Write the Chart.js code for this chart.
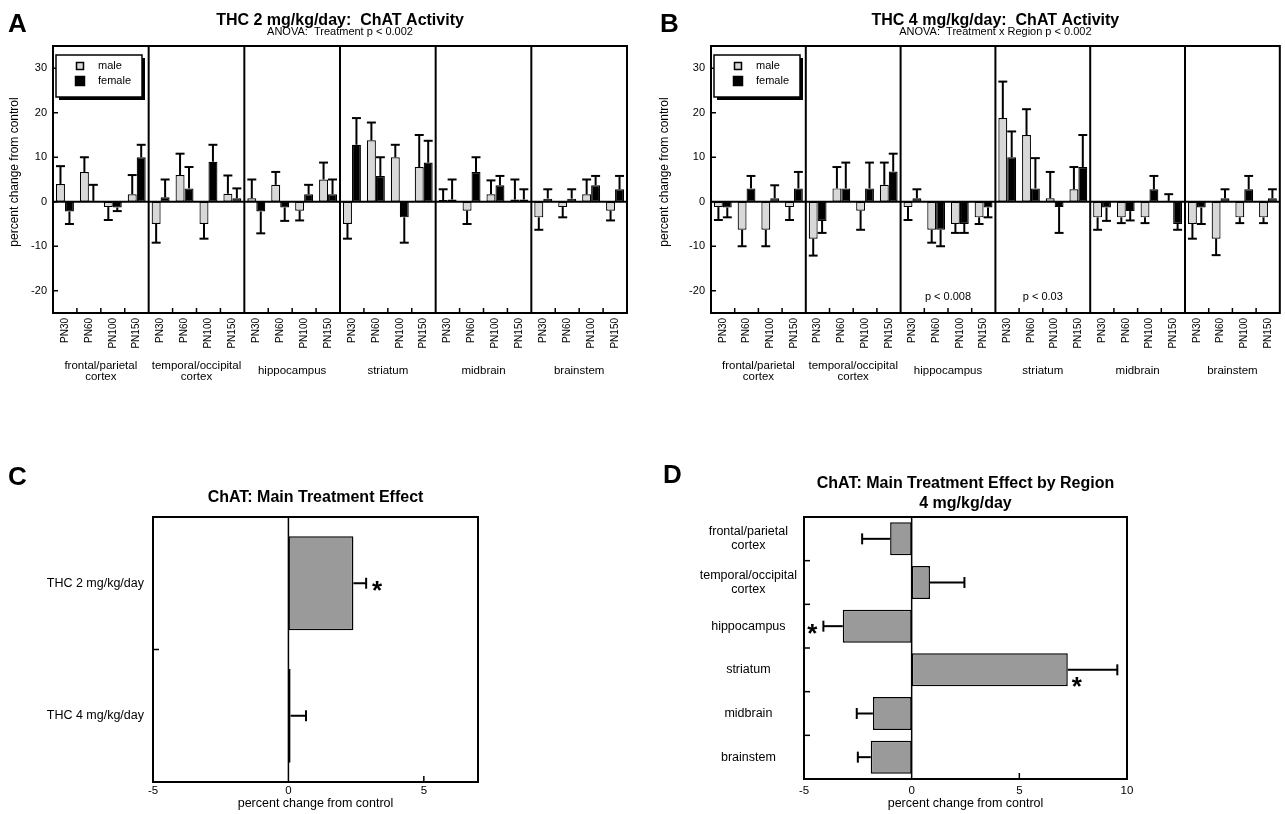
<!DOCTYPE html>
<html>
<head>
<meta charset="utf-8">
<title>ChAT activity</title>
<script src="https://cdn.jsdelivr.net/npm/chart.js@4.4.1/dist/chart.umd.min.js"></script>
<style>
  body { margin: 0; background: #fff; }
  #page { position: relative; width: 1285px; height: 814px; overflow: hidden; }
  #page canvas { position: absolute; }
</style>
</head>
<body>
<div id="page">
  <canvas id="chartA" width="640" height="400" style="left:0;top:0"></canvas>
  <canvas id="chartB" width="645" height="400" style="left:640px;top:0"></canvas>
  <canvas id="chartC" width="640" height="374" style="left:0;top:440px"></canvas>
  <canvas id="chartD" width="645" height="374" style="left:640px;top:440px"></canvas>
</div>
<script>
// ---- data ----
const ages = ['PN30', 'PN60', 'PN100', 'PN150'];
const regions = [['frontal/parietal', 'cortex'], ['temporal/occipital', 'cortex'], ['hippocampus'], ['striatum'], ['midbrain'], ['brainstem']];
const groupLabels = regions.flatMap(() => ages);
const yTicksAB = [-20, -10, 0, 10, 20, 30];

// A: THC 2 mg/kg/day, percent change from control (errors = SEM, drawn away from zero)
const maleA      = [4, 6.7, -1.2, 1.7,   -5, 6, -5, 1.8,      0.8, 3.8, -2, 5,     -5, 13.8, 10, 7.8,   0.4, -2, 1.7, 0.5,   -3.5, -1.2, 1.7, -2];
const maleAErr   = [4, 3.3, 2.9, 4.3,    4.2, 4.8, 3.3, 4.1,  4.2, 2.9, 2.2, 3.8,  3.3, 4, 2.8, 7.2,    2.4, 3, 3.1, 4.5,    2.8, 2.3, 3.3, 2.2];
const femaleA    = [-2.2, 0.2, -1.3, 10, 1, 3, 9, 0.8,        -2.2, -1.3, 1.7, 1.7, 12.8, 5.8, -3.5, 8.8, 0.5, 6.7, 3.7, 0.5, 0.7, 0.7, 3.7, 2.8];
const femaleAErr = [2.8, 3.6, 0.8, 2.8,  4, 4.8, 3.8, 2.2,    4.9, 3, 2.1, 3.3,    6, 4.2, 5.7, 4.9,    4.5, 3.3, 2.1, 2.3,  2.1, 2.1, 2.1, 3];

// B: THC 4 mg/kg/day
const maleB      = [-1.2, -6.3, -6.3, -1.2, -8.3, 3, -2, 3.8,   -1.2, -6.3, -5, -3.5, 18.8, 15, 0.8, 2.8,  -3.5, -3.5, -3.5, 0.2, -5, -8.3, -3.5, -3.5];
const maleBErr   = [2.9, 3.7, 3.7, 2.9,     3.8, 4.8, 4.3, 5,   2.9, 2.9, 2, 1.5,     8.2, 5.8, 5.9, 5,    2.8, 1.3, 1.3, 1.5,    3.3, 3.7, 1.3, 1.3];
const femaleB    = [-1.3, 3, 0.8, 3,        -4.3, 3, 3, 6.8,    0.8, -6.3, -5, -1.3,  10, 3, -1.2, 7.8,    -1.3, -2.1, 2.8, -5,   -1.3, 0.8, 2.8, 0.8];
const femaleBErr = [2.2, 2.8, 2.9, 3.7,     2.7, 5.8, 5.8, 4,   2, 3.7, 2, 2.2,       5.8, 6.8, 5.8, 7.2,  3, 2.1, 3, 1.3,        3.7, 2, 3, 2];
const notesB = [{ region: 2, text: 'p < 0.008' }, { region: 3, text: 'p < 0.03' }];

// C: main treatment effect
const doses = ['THC 2 mg/kg/day', 'THC 4 mg/kg/day'];
const mainEffect = [2.4, 0.08];
const mainEffectErr = [0.47, 0.57];
const mainEffectStars = [true, false];
const xTicksC = [-5, 0, 5];

// D: main treatment effect by region, 4 mg/kg/day
const regionEffect = [-1.0, 0.85, -3.2, 7.25, -1.8, -1.9];
const regionEffectErr = [1.3, 1.6, 0.9, 2.3, 0.75, 0.6];
const regionEffectStars = [false, false, true, true, false, false];
const xTicksD = [-5, 0, 5, 10];

// ---- helpers ----
const FAMILY = "'Liberation Sans', Arial, Helvetica, sans-serif";
Chart.defaults.font.family = FAMILY;
Chart.defaults.color = '#000';
Chart.defaults.animation = false;
Chart.defaults.plugins.legend.display = false;
Chart.defaults.plugins.tooltip.enabled = false;

function line(ctx, x1, y1, x2, y2) {
  ctx.beginPath(); ctx.moveTo(x1, y1); ctx.lineTo(x2, y2); ctx.stroke();
}
function text(ctx, str, x, y, size, o = {}) {
  ctx.save();
  ctx.font = (o.bold ? 'bold ' : '') + size + 'px ' + FAMILY;
  ctx.textAlign = o.align || 'center';
  ctx.textBaseline = o.baseline || 'middle';
  ctx.fillStyle = '#000';
  ctx.translate(x, y);
  if (o.rotate) ctx.rotate(o.rotate);
  ctx.fillText(str, 0, 0);
  ctx.restore();
}

// error bars (one-sided, away from zero) + significance stars
function errorBars(capOf) {
  return {
    id: 'errorBars',
    afterDatasetsDraw(chart) {
      const { ctx, chartArea: a } = chart;
      const horiz = chart.options.indexAxis === 'y';
      const vs = horiz ? chart.scales.x : chart.scales.y;
      ctx.save();
      ctx.strokeStyle = '#000';
      ctx.lineWidth = 2;
      chart.data.datasets.forEach((ds, di) => {
        if (!ds.errors) return;
        chart.getDatasetMeta(di).data.forEach((bar, i) => {
          const v = ds.data[i];
          const dir = v < 0 ? -1 : 1;
          const p0 = vs.getPixelForValue(v);
          const p1 = vs.getPixelForValue(v + dir * ds.errors[i]);
          const half = capOf(bar) / 2;
          if (horiz) {
            const c = bar.y;
            line(ctx, p0, c, p1, c);
            line(ctx, p1, c - half, p1, c + half);
            if (ds.stars && ds.stars[i]) {
              let sx = p1 + dir * 11, sy = c + 1;
              if (sx + 6 > a.right || sx - 6 < a.left) { sx = p0 + dir * 9; sy = c + 10; }
              text(ctx, '*', sx, sy + 15, 26, { bold: true, baseline: 'alphabetic' });
            }
          } else {
            const c = bar.x;
            line(ctx, c, p0, c, p1);
            line(ctx, c - half, p1, c + half, p1);
          }
        });
      });
      ctx.restore();
    }
  };
}

// frame, region dividers, legend and labels for panels A and B
function sexPanel(o) {
  return {
    id: 'sexPanel',
    afterDraw(chart) {
      const { ctx, chartArea: a, scales: { x, y } } = chart;
      const n = ages.length;
      const step = x.getPixelForValue(1) - x.getPixelForValue(0);
      const edge = i => x.getPixelForValue(i) - step / 2;
      ctx.save();
      ctx.strokeStyle = '#000';
      ctx.lineWidth = 2;
      const y0 = y.getPixelForValue(0);
      line(ctx, a.left, y0, a.right, y0);
      for (let r = 1; r < regions.length; r++) line(ctx, edge(r * n), a.top, edge(r * n), a.bottom);
      ctx.lineWidth = 1.5;
      for (let i = 1; i < groupLabels.length; i++) if (i % n) line(ctx, edge(i), a.bottom, edge(i), a.bottom - 5);
      y.ticks.forEach(t => { const py = y.getPixelForValue(t.value); line(ctx, a.left, py, a.left + 5, py); });
      ctx.lineWidth = 2;
      ctx.strokeRect(a.left, a.top, a.width, a.height);

      // region names
      regions.forEach((lines, r) => {
        const cx = (edge(r * n) + edge((r + 1) * n)) / 2;
        lines.forEach((t, k) => text(ctx, t, cx, 371 + (k - (lines.length - 1) / 2) * 11, 11.5));
      });
      (o.notes || []).forEach(nt => {
        const cx = (edge(nt.region * n) + edge((nt.region + 1) * n)) / 2;
        text(ctx, nt.text, cx, a.bottom - 16, 11);
      });

      // legend
      const lx = a.left + 3, ly = a.top + 9, lw = 86, lh = 42;
      ctx.fillStyle = '#000';
      ctx.fillRect(lx + 3, ly + 3, lw, lh);
      ctx.fillStyle = '#fff';
      ctx.fillRect(lx, ly, lw, lh);
      ctx.lineWidth = 1.5;
      ctx.strokeRect(lx, ly, lw, lh);
      chart.data.datasets.forEach((ds, k) => {
        const s = k ? 9 : 7, cy = ly + 11 + k * 15;
        ctx.fillStyle = ds.backgroundColor;
        ctx.fillRect(lx + 24 - s / 2, cy - s / 2, s, s);
        ctx.strokeRect(lx + 24 - s / 2, cy - s / 2, s, s);
        text(ctx, ds.label, lx + 42, cy, 11, { align: 'left' });
      });

      // titles
      const cx = (a.left + a.right) / 2;
      text(ctx, o.title, cx, 25, 16, { bold: true, baseline: 'alphabetic' });
      text(ctx, o.subtitle, cx, 35, 11, { baseline: 'alphabetic' });
      text(ctx, o.letter, o.letterX, 32, 26, { bold: true, align: 'left', baseline: 'alphabetic' });
      text(ctx, 'percent change from control', o.yTitleX, 172, 12, { rotate: -Math.PI / 2 });
      ctx.restore();
    }
  };
}

function sexChart(id, male, maleErr, female, femaleErr, o) {
  return new Chart(document.getElementById(id), {
    type: 'bar',
    data: {
      labels: groupLabels,
      datasets: [
        { label: 'male', data: male, errors: maleErr, backgroundColor: '#d8d8d8', borderColor: '#000', borderWidth: 1.2, borderSkipped: false },
        { label: 'female', data: female, errors: femaleErr, backgroundColor: '#000', borderColor: '#000', borderWidth: 1.2, borderSkipped: false }
      ]
    },
    options: {
      responsive: false,
      categoryPercentage: 0.75,
      barPercentage: 1,
      layout: { padding: o.padding },
      scales: {
        x: {
          grid: { display: false, drawTicks: false },
          border: { display: false },
          ticks: { autoSkip: false, minRotation: 90, maxRotation: 90, padding: 5, font: { size: 10 } },
          afterFit: s => { s.height = 87; }
        },
        y: {
          min: -25, max: 35,
          grid: { display: false, drawTicks: false },
          border: { display: false },
          ticks: { padding: 6, font: { size: 11 } },
          afterBuildTicks: s => { s.ticks = yTicksAB.map(v => ({ value: v })); },
          afterFit: s => { s.width = 35; }
        }
      }
    },
    plugins: [errorBars(bar => bar.width), sexPanel(o)]
  });
}

// frame and labels for panels C and D
function effectPanel(o) {
  return {
    id: 'effectPanel',
    afterDraw(chart) {
      const { ctx, chartArea: a, scales: { x, y } } = chart;
      const step = y.getPixelForValue(1) - y.getPixelForValue(0);
      ctx.save();
      ctx.strokeStyle = '#000';
      ctx.lineWidth = 1.5;
      const x0 = x.getPixelForValue(0);
      line(ctx, x0, a.top, x0, a.bottom);
      for (let i = 1; i < chart.data.labels.length; i++) {
        const py = y.getPixelForValue(i) - step / 2;
        line(ctx, a.left, py, a.left + 6, py);
      }
      x.ticks.forEach(t => {
        const px = x.getPixelForValue(t.value);
        if (t.value !== 0) line(ctx, px, a.bottom, px, a.bottom - 6);
      });
      ctx.lineWidth = 2;
      ctx.strokeRect(a.left, a.top, a.width, a.height);
      const cx = (a.left + a.right) / 2;
      o.title.forEach((t, k) => text(ctx, t, cx, o.titleY + k * 20, 16, { bold: true, baseline: 'alphabetic' }));
      text(ctx, o.letter, o.letterX, o.letterY, 26, { bold: true, align: 'left', baseline: 'alphabetic' });
      text(ctx, 'percent change from control', cx, 364, 12.5);
      ctx.restore();
    }
  };
}

function effectChart(id, labels, values, errs, stars, xTicks, o) {
  return new Chart(document.getElementById(id), {
    type: 'bar',
    data: {
      labels,
      datasets: [{ data: values, errors: errs, stars, backgroundColor: '#9a9a9a', borderColor: '#000', borderWidth: 1.5, borderSkipped: false }]
    },
    options: {
      indexAxis: 'y',
      responsive: false,
      categoryPercentage: 1,
      barPercentage: o.barPct,
      layout: { padding: o.padding },
      scales: {
        x: {
          min: o.min, max: o.max,
          grid: { display: false, drawTicks: false },
          border: { display: false },
          ticks: { padding: o.xPad, font: { size: 11.5 } },
          afterBuildTicks: s => { s.ticks = xTicks.map(v => ({ value: v })); },
          afterFit: s => { s.height = o.xHeight; }
        },
        y: {
          grid: { display: false, drawTicks: false },
          border: { display: false },
          ticks: { padding: o.yPad, crossAlign: o.crossAlign, font: { size: 12.5, lineHeight: 1.12 } },
          afterFit: s => { s.width = o.yWidth; }
        }
      }
    },
    plugins: [errorBars(() => 11), effectPanel(o)]
  });
}

sexChart('chartA', maleA, maleAErr, femaleA, femaleAErr, {
  padding: { left: 18, top: 46, right: 13, bottom: 0 },
  title: 'THC 2 mg/kg/day:  ChAT Activity',
  subtitle: 'ANOVA:  Treatment p < 0.002',
  letter: 'A', letterX: 8, yTitleX: 15
});
sexChart('chartB', maleB, maleBErr, femaleB, femaleBErr, {
  padding: { left: 36, top: 46, right: 2, bottom: 0 },
  title: 'THC 4 mg/kg/day:  ChAT Activity',
  subtitle: 'ANOVA:  Treatment x Region p < 0.002',
  letter: 'B', letterX: 20, yTitleX: 25, notes: notesB
});
effectChart('chartC', doses, mainEffect, mainEffectErr, mainEffectStars, xTicksC, {
  padding: { left: 10, top: 77, right: 162, bottom: 0 },
  yWidth: 143, xHeight: 32, xPad: 2, yPad: 9, crossAlign: 'near', barPct: 0.71,
  min: -5, max: 7,
  title: ['ChAT: Main Treatment Effect'], titleY: 62,
  letter: 'C', letterX: 8, letterY: 45
});
effectChart('chartD', regions, regionEffect, regionEffectErr, regionEffectStars, xTicksD, {
  padding: { left: 10, top: 77, right: 158, bottom: 0 },
  yWidth: 154, xHeight: 35, xPad: 5, yPad: 7, crossAlign: 'center', barPct: 0.755,
  min: -5, max: 10,
  title: ['ChAT: Main Treatment Effect by Region', '4 mg/kg/day'], titleY: 48,
  letter: 'D', letterX: 23, letterY: 43
});
</script>
</body>
</html>
